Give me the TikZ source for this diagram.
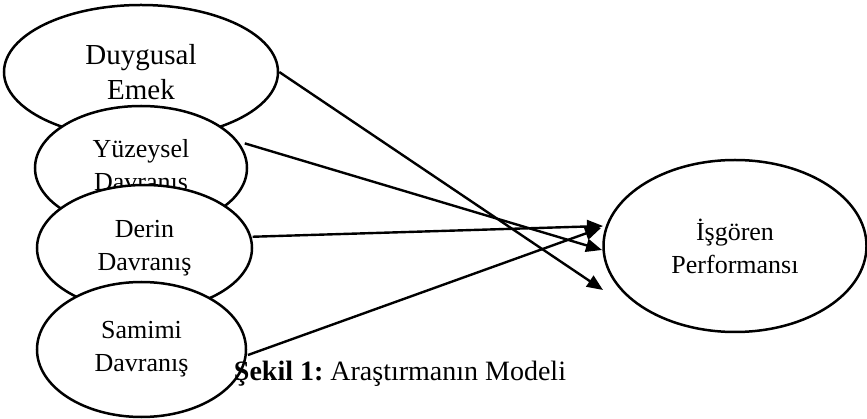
\documentclass[tikz,border=0pt]{standalone}
\usepackage{fontspec}
\setmainfont{Liberation Serif}
\usetikzlibrary{shapes.geometric,arrows.meta}
\begin{document}
\begin{tikzpicture}[x=1pt,y=-1pt,
  oval/.style={ellipse,draw,line width=2.5pt,fill=white,inner sep=0pt,align=center,font=\fontsize{26}{33}\selectfont},
  link/.style={line width=2.4pt,-{Triangle[length=16pt,width=13pt]}}]
\useasboundingbox (0,0) rectangle (867,419);
\node[oval,minimum width=274pt,minimum height=134pt,font=\fontsize{29}{35}\selectfont] (duy) at (141,72) {Duygusal\\Emek};
\node[oval,minimum width=212pt,minimum height=124pt] (yuz) at (141,168) {Yüzeysel\\Davranış};
\node[oval,minimum width=215pt,minimum height=126pt] (der) at (144.5,248) {Derin\\Davranış};
\node[oval,minimum width=209pt,minimum height=135pt] (sam) at (141.5,349.5) {Samimi\\Davranış};
\node[oval,minimum width=263pt,minimum height=172pt] (isg) at (735,246) {İşgören\\Performansı};
\coordinate (t1) at (603,290);
\coordinate (t2) at (602,250);
\coordinate (t3) at (603,226);
\coordinate (t4) at (601,228);
\draw[link] (duy.east) -- (t1);
\draw[link] ([xshift=5pt]yuz.14) -- (t2);
\draw[link] ([xshift=1pt]der.6) -- (t3);
\draw[link] ([xshift=1pt]sam.-3) -- (t4);
\node[anchor=base,inner sep=0pt,font=\fontsize{28}{34}\selectfont] (cap) at (400,380) {\frenchspacing\textbf{Şekil 1:} Araştırmanın Modeli};
\end{tikzpicture}
\end{document}
